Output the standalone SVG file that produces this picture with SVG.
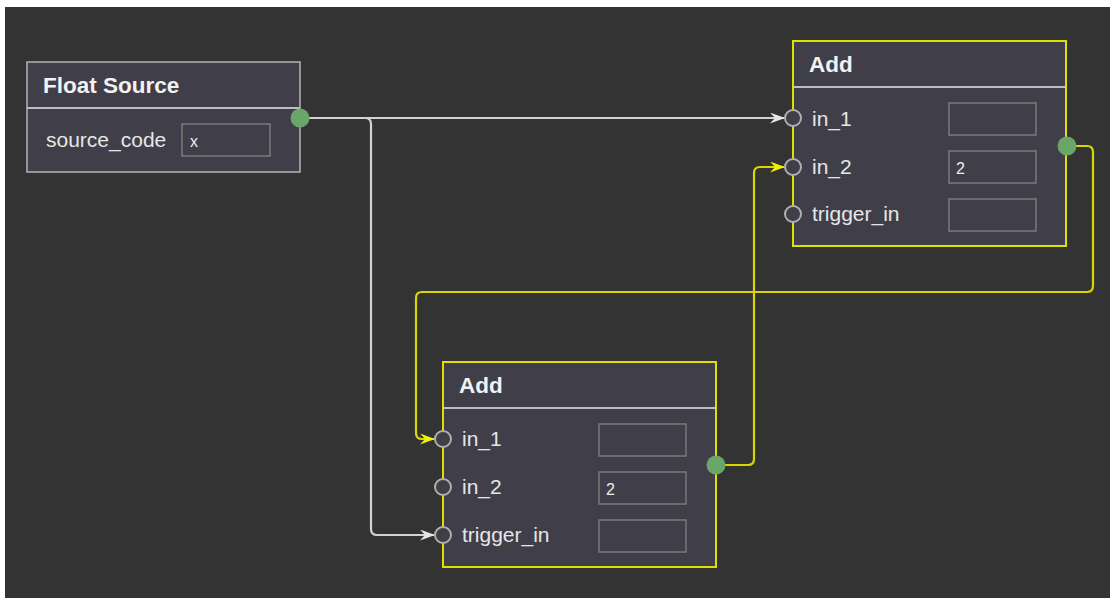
<svg xmlns="http://www.w3.org/2000/svg" width="1110" height="598" viewBox="0 0 1110 598">
<defs>
<style>
.node{fill:#403f49;stroke:#b4b4b4;stroke-width:1.5}
.sel{stroke:#e0e000;stroke-width:2}
.sep{stroke:#bdbdbd;stroke-width:2}
.title{font-family:"Liberation Sans",Arial,sans-serif;font-weight:bold;font-size:22.5px;fill:#f2f2f2}
.lbl{font-family:"Liberation Sans",Arial,sans-serif;font-size:21px;fill:#e6e6e6}
.val{font-family:"Liberation Sans",Arial,sans-serif;font-size:16px;fill:#eeeeee}
.box{fill:#403f49;stroke:#7a7a7a;stroke-width:1.5}
.in{fill:#403f49;stroke:#b0b0b0;stroke-width:2}
.out{fill:#6aa56a}
.w{fill:none;stroke:#d2d2d2;stroke-width:2.2}
.y{fill:none;stroke:#d8d800;stroke-width:2.2}
</style>
<marker id="aw" viewBox="0 0 15 11" refX="14" refY="5.5" markerWidth="15" markerHeight="11" markerUnits="userSpaceOnUse" orient="auto">
<path d="M0,0 L15,5.5 L0,11 L5,5.5 Z" fill="#e6e6e6"/>
</marker>
<marker id="ay" viewBox="0 0 15 11" refX="14" refY="5.5" markerWidth="15" markerHeight="11" markerUnits="userSpaceOnUse" orient="auto">
<path d="M0,0 L15,5.5 L0,11 L5,5.5 Z" fill="#f0f000"/>
</marker>
</defs>
<rect x="0" y="0" width="1110" height="598" fill="#ffffff"/>
<rect x="5" y="7" width="1105" height="591" fill="#333333"/>

<g id="connectors">
<path class="w" d="M300,118 H365 Q371,118 371,124 V529 Q371,535 377,535 H434" marker-end="url(#aw)"/>
<path class="w" d="M300,118 H784" marker-end="url(#aw)"/>
<path class="y" d="M1067,146 H1087 Q1093,146 1093,152 V286 Q1093,292 1087,292 H422 Q416,292 416,298 V433 Q416,439 422,439 H434" marker-end="url(#ay)"/>
<path class="y" d="M716,465 H748 Q754,465 754,459 V173 Q754,167 760,167 H784" marker-end="url(#ay)"/>
</g>

<g id="float-source">
<rect class="node" x="27" y="62" width="273" height="110"/>
<line class="sep" x1="27" y1="108" x2="300" y2="108"/>
<text class="title" x="43" y="93">Float Source</text>
<text class="lbl" x="46" y="147">source_code</text>
<rect class="box" x="182" y="124" width="88" height="32"/>
<text class="val" x="190" y="147">x</text>
<circle class="out" cx="300" cy="118" r="9.5"/>
</g>

<g id="add-top">
<rect class="node sel" x="793" y="41" width="273" height="205"/>
<line class="sep" x1="794" y1="87" x2="1065" y2="87"/>
<text class="title" x="809" y="72">Add</text>
<circle class="in" cx="793" cy="118" r="8"/>
<text class="lbl" x="812" y="126">in_1</text>
<rect class="box" x="949" y="103" width="87" height="32"/>
<circle class="in" cx="793" cy="167" r="8"/>
<text class="lbl" x="812" y="174">in_2</text>
<rect class="box" x="949" y="151" width="87" height="32"/>
<text class="val" x="956" y="174">2</text>
<circle class="in" cx="793" cy="214" r="8"/>
<text class="lbl" x="812" y="221">trigger_in</text>
<rect class="box" x="949" y="199" width="87" height="32"/>
<circle class="out" cx="1067" cy="146" r="9.5"/>
</g>

<g id="add-bottom">
<rect class="node sel" x="443" y="362" width="273" height="205"/>
<line class="sep" x1="444" y1="408" x2="715" y2="408"/>
<text class="title" x="459" y="393">Add</text>
<circle class="in" cx="443" cy="439" r="8"/>
<text class="lbl" x="462" y="446">in_1</text>
<rect class="box" x="599" y="424" width="87" height="32"/>
<circle class="in" cx="443" cy="487" r="8"/>
<text class="lbl" x="462" y="494">in_2</text>
<rect class="box" x="599" y="472" width="87" height="32"/>
<text class="val" x="606" y="495">2</text>
<circle class="in" cx="443" cy="535" r="8"/>
<text class="lbl" x="462" y="542">trigger_in</text>
<rect class="box" x="599" y="520" width="87" height="32"/>
<circle class="out" cx="716" cy="465" r="9.5"/>
</g>
</svg>
